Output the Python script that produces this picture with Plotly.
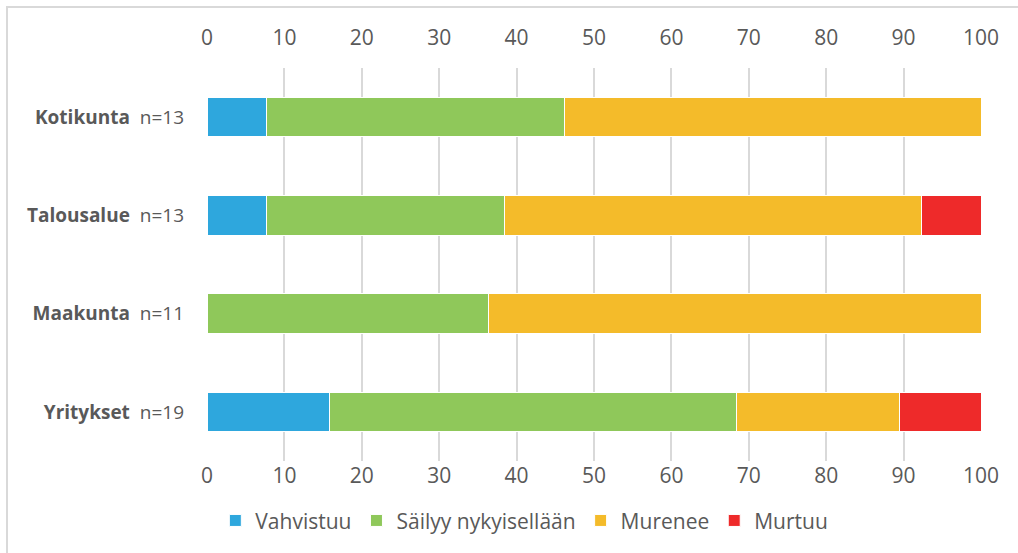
import plotly.graph_objects as go

categories = ["Kotikunta", "Talousalue", "Maakunta", "Yritykset"]
counts = ["n=13", "n=13", "n=11", "n=19"]

vahvistuu = [7.7, 7.7, 0.0, 15.8]
sailyy = [38.5, 30.8, 36.4, 52.6]
murenee = [53.8, 53.8, 63.6, 21.1]
murtuu = [0.0, 7.7, 0.0, 10.5]

series_names = ["Vahvistuu", "Säilyy nykyisellään", "Murenee", "Murtuu"]
colors = ["#2EA7DD", "#8FC85A", "#F4BB2A", "#EE2A2A"]

labels = ["<b>%s</b>  %s" % (c, n) for c, n in zip(categories, counts)]

fig = go.Figure()
for name, vals, col in zip(series_names, [vahvistuu, sailyy, murenee, murtuu], colors):
    fig.add_trace(go.Bar(
        y=labels,
        x=vals,
        name=name,
        orientation="h",
        marker=dict(color=col, line=dict(color="white", width=1)),
        width=0.4,
    ))

# invisible trace to carry the top axis
fig.add_trace(go.Scatter(x=[0, 100], y=[labels[0], labels[0]], xaxis="x2",
                         mode="markers", marker=dict(opacity=0),
                         showlegend=False, hoverinfo="skip"))

font_col = "#595959"
fig.update_layout(
    barmode="stack",
    width=1018, height=553,
    margin=dict(l=207, r=37, t=68, b=85),
    paper_bgcolor="white",
    plot_bgcolor="white",
    font=dict(family="Open Sans, Liberation Sans, sans-serif", size=20, color=font_col),
    xaxis=dict(range=[0, 100], dtick=10, showgrid=True, gridcolor="#D9D9D9", gridwidth=2,
               zeroline=False, showline=False, ticks="", ticklabelstandoff=0,
               tickfont=dict(size=21, color=font_col)),
    xaxis2=dict(range=[0, 100], dtick=10, overlaying="x", side="top", matches="x",
                showgrid=False, zeroline=False, ticks="", ticklabelstandoff=18,
                tickfont=dict(size=21, color=font_col)),
    yaxis=dict(autorange="reversed", categoryorder="array", categoryarray=labels,
               showgrid=False, zeroline=False, ticks="", ticklabelstandoff=22,
               tickfont=dict(size=19, color=font_col)),
    legend=dict(orientation="h", x=0.41, xanchor="center", y=-0.1, yanchor="top",
                font=dict(size=21, color=font_col), traceorder="normal"),
    bargap=0.6,
    shapes=[dict(type="rect", xref="paper", yref="paper",
                 x0=(7 - 207) / 774, x1=(1030 - 207) / 774,
                 y0=(468 - 570) / 400, y1=(468 - 6) / 400,
                 line=dict(color="#D9D9D9", width=2), fillcolor="rgba(0,0,0,0)",
                 layer="below")],
)

fig.write_html("out.html", config={"displayModeBar": False},
               post_script="document.body.style.margin='0';")
